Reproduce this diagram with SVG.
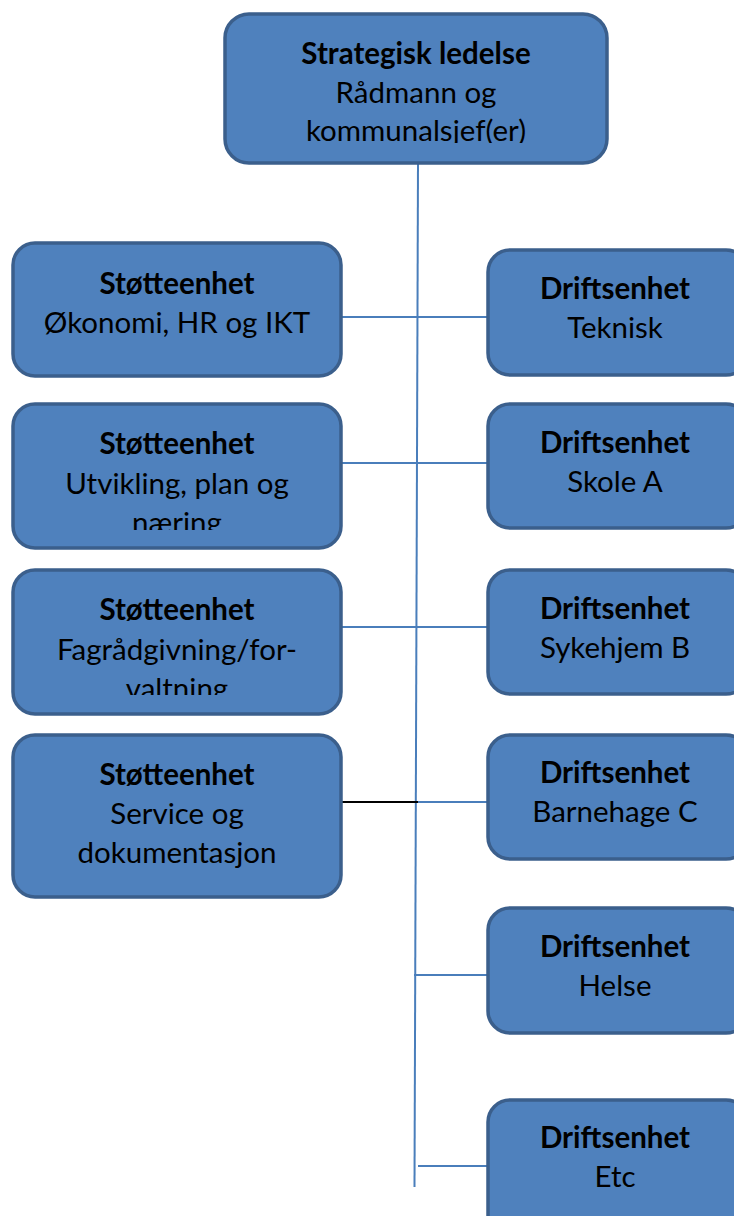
<svg xmlns="http://www.w3.org/2000/svg" width="734" height="1216" viewBox="0 0 734 1216">
<style>
.box{fill:#4f81bd;stroke:#3b5f8c;stroke-width:3.5}
.t{font-family:Lato,"Liberation Sans",sans-serif;font-size:29.5px;fill:#000;text-anchor:middle}
.b{font-weight:bold}
.c{stroke:#4a7ebb;stroke-width:2;fill:none}
</style>
<defs>
<clipPath id="clipTop"><rect x="225" y="14" width="382" height="129"/></clipPath>
<clipPath id="clipL2"><rect x="13" y="404" width="328" height="126"/></clipPath>
<clipPath id="clipL3"><rect x="13" y="570" width="328" height="125"/></clipPath>
</defs>
<g id="connectors">
<line class="c" x1="418" y1="163" x2="414.5" y2="1187"/>
<line class="c" x1="341" y1="317" x2="488" y2="317"/>
<line class="c" x1="341" y1="463" x2="488" y2="463"/>
<line class="c" x1="341" y1="627" x2="488" y2="627"/>
<line x1="341" y1="802" x2="418" y2="802" stroke="#000" stroke-width="2"/>
<line class="c" x1="418" y1="802" x2="488" y2="802"/>
<line class="c" x1="414" y1="975" x2="488" y2="975"/>
<line class="c" x1="418" y1="1166" x2="488" y2="1166"/>
</g>
<g id="n-top">
<rect class="box" x="225" y="14" width="382" height="149" rx="24"/>
<g clip-path="url(#clipTop)">
<text class="t b" x="416" y="64">Strategisk ledelse</text>
<text class="t" x="416" y="103">Rådmann og</text>
<text class="t" x="416" y="141">kommunalsjef(er)</text>
</g>
</g>
<g id="n-s1">
<rect class="box" x="13" y="243" width="328" height="133" rx="22"/>
<text class="t b" x="177" y="294">Støtteenhet</text>
<text class="t" x="177" y="333">Økonomi, HR og IKT</text>
</g>
<g id="n-s2">
<rect class="box" x="13" y="404" width="328" height="144" rx="22"/>
<g clip-path="url(#clipL2)">
<text class="t b" x="177" y="454">Støtteenhet</text>
<text class="t" x="177" y="494">Utvikling, plan og</text>
<text class="t" x="177" y="533">næring</text>
</g>
</g>
<g id="n-s3">
<rect class="box" x="13" y="570" width="328" height="144" rx="22"/>
<g clip-path="url(#clipL3)">
<text class="t b" x="177" y="620">Støtteenhet</text>
<text class="t" x="177" y="660">Fagrådgivning/for-</text>
<text class="t" x="177" y="699">valtning</text>
</g>
</g>
<g id="n-s4">
<rect class="box" x="13" y="735" width="328" height="162" rx="22"/>
<text class="t b" x="177" y="785">Støtteenhet</text>
<text class="t" x="177" y="824">Service og</text>
<text class="t" x="177" y="863">dokumentasjon</text>
</g>
<g id="n-d1">
<rect class="box" x="488" y="250" width="260" height="125" rx="22"/>
<text class="t b" x="615" y="299">Driftsenhet</text>
<text class="t" x="615" y="338">Teknisk</text>
</g>
<g id="n-d2">
<rect class="box" x="488" y="404" width="260" height="124" rx="22"/>
<text class="t b" x="615" y="453">Driftsenhet</text>
<text class="t" x="615" y="492">Skole A</text>
</g>
<g id="n-d3">
<rect class="box" x="488" y="570" width="260" height="124" rx="22"/>
<text class="t b" x="615" y="619">Driftsenhet</text>
<text class="t" x="615" y="658">Sykehjem B</text>
</g>
<g id="n-d4">
<rect class="box" x="488" y="735" width="260" height="124" rx="22"/>
<text class="t b" x="615" y="783">Driftsenhet</text>
<text class="t" x="615" y="822">Barnehage C</text>
</g>
<g id="n-d5">
<rect class="box" x="488" y="908" width="260" height="125" rx="22"/>
<text class="t b" x="615" y="957">Driftsenhet</text>
<text class="t" x="615" y="996">Helse</text>
</g>
<g id="n-d6">
<rect class="box" x="488" y="1100" width="260" height="140" rx="22"/>
<text class="t b" x="615" y="1148">Driftsenhet</text>
<text class="t" x="615" y="1187">Etc</text>
</g>
</svg>
